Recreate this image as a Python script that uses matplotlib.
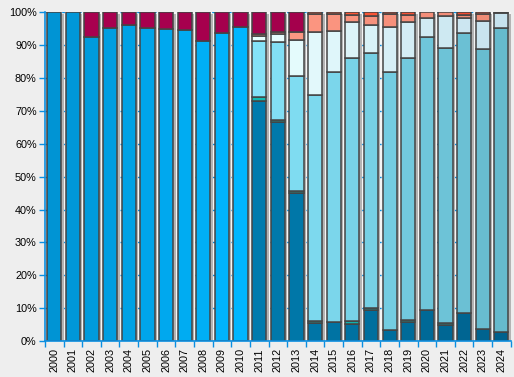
import matplotlib
matplotlib.use("Agg")
import matplotlib.pyplot as plt
import numpy as np
from matplotlib.colors import to_rgb

plt.rcParams['font.family'] = ['Liberation Sans', 'DejaVu Sans']

years = [str(y) for y in range(2000, 2025)]

# shares in %, stacked bottom -> top
dark_blue = [0, 0, 0, 0, 0, 0, 0, 0, 0, 0, 0,
             72.9, 66.5, 45.1, 5.5, 5.8, 5.2, 9.5, 3.4, 5.8, 9.5, 5.0, 8.5, 3.7, 2.9]
teal = [0, 0, 0, 0, 0, 0, 0, 0, 0, 0, 0,
        1.2, 0.6, 0.5, 0.6, 0, 0.9, 0.7, 0, 0.7, 0, 0.6, 0, 0, 0]
blue = [100, 100, 92.3, 95.3, 96.2, 95.3, 95.0, 94.7, 91.1, 93.5, 95.6,
        0, 0, 0, 0, 0, 0, 0, 0, 0, 0, 0, 0, 0, 0]
light_blue = [0, 0, 0, 0, 0, 0, 0, 0, 0, 0, 0,
              17.0, 23.7, 34.9, 68.6, 76.0, 79.8, 77.3, 78.4, 79.4, 82.8, 83.4, 85.1, 85.1, 92.3]
light_cyan = [0, 0, 0, 0, 0, 0, 0, 0, 0, 0, 0,
              1.6, 2.4, 10.9, 19.1, 12.3, 11.0, 8.5, 13.8, 11.0, 5.8, 9.8, 4.6, 8.6, 4.4]
salmon = [0, 0, 0, 0, 0, 0, 0, 0, 0, 0, 0,
          0.5, 0.6, 2.6, 5.6, 5.4, 2.2, 2.7, 3.9, 2.3, 1.9, 1.2, 1.0, 2.1, 0.4]
red = [0, 0, 0, 0, 0, 0, 0, 0, 0, 0, 0,
       0, 0, 0, 0.6, 0.5, 0.9, 1.3, 0.5, 0.8, 0, 0, 0.8, 0.5, 0]
crimson = [0, 0, 7.7, 4.7, 3.8, 4.7, 5.0, 5.3, 8.9, 6.5, 4.4,
           6.8, 6.2, 6.0, 0, 0, 0, 0, 0, 0, 0, 0, 0, 0, 0]

series = [dark_blue, teal, blue, light_blue, light_cyan, salmon, red, crimson]
# (first colour, last colour) - the chart shades each series across its years
colours = [("#007bad", "#00618d"), ("#10bcb4", "#10a8a8"),
           ("#0094d4", "#00b6ff"), ("#84e2f8", "#66bacd"),
           ("#eaffff", "#c6e2ee"), ("#ff9884", "#ee8a74"),
           ("#ff5a38", "#f04a30"), ("#a8004f", "#a4004c")]

n = len(years)
x = np.arange(n)

fig = plt.figure(figsize=(5.14, 3.77), dpi=100, facecolor="#eeeeee")
ax = fig.add_axes([0.0875, 0.095, 0.906, 0.873])
ax.set_facecolor("#f5f5f5")

axis_blue = "#0a8ee0"
w = 0.76

# shadows
ax.bar(x + 0.13, 100, width=w, bottom=-0.6, color="#b4b4b4", zorder=2)

bottom = np.zeros(n)
for vals, (c0, c1) in zip(series, colours):
    vals = np.array(vals, dtype=float)
    idx = np.where(vals > 0)[0]
    a, b = np.array(to_rgb(c0)), np.array(to_rgb(c1))
    span = max(idx[-1] - idx[0], 1)
    cols = [tuple(a + (b - a) * (i - idx[0]) / span) for i in idx]
    ax.bar(x[idx], vals[idx], width=w, bottom=bottom[idx], color=cols,
           edgecolor="#444444", linewidth=1.1, zorder=3)
    bottom += vals

ax.set_xlim(-0.5, n - 0.5)
ax.set_ylim(0, 100)
ax.set_yticks(np.arange(0, 101, 10))
ax.set_yticklabels([f"{v}%" for v in range(0, 101, 10)])
ax.set_xticks(x)
ax.set_xticklabels(years, rotation=90)
ax.set_xticks(np.arange(-0.5, n, 1), minor=True)
ax.tick_params(axis="x", which="major", length=0, labelsize=7.8, pad=5)
ax.tick_params(axis="x", which="minor", length=4, color=axis_blue, width=1)
ax.tick_params(axis="y", length=4, color=axis_blue, width=1, labelsize=7.8, pad=2)

ax.grid(axis="y", color=axis_blue, linestyle=(0, (2, 4)), linewidth=1)
ax.set_axisbelow(True)

for s in ["top", "right"]:
    ax.spines[s].set_visible(False)
for s in ["left", "bottom"]:
    ax.spines[s].set_color(axis_blue)
    ax.spines[s].set_linewidth(1.2)
    ax.spines[s].set_zorder(5)

fig.savefig("out.png", dpi=100, facecolor=fig.get_facecolor())
